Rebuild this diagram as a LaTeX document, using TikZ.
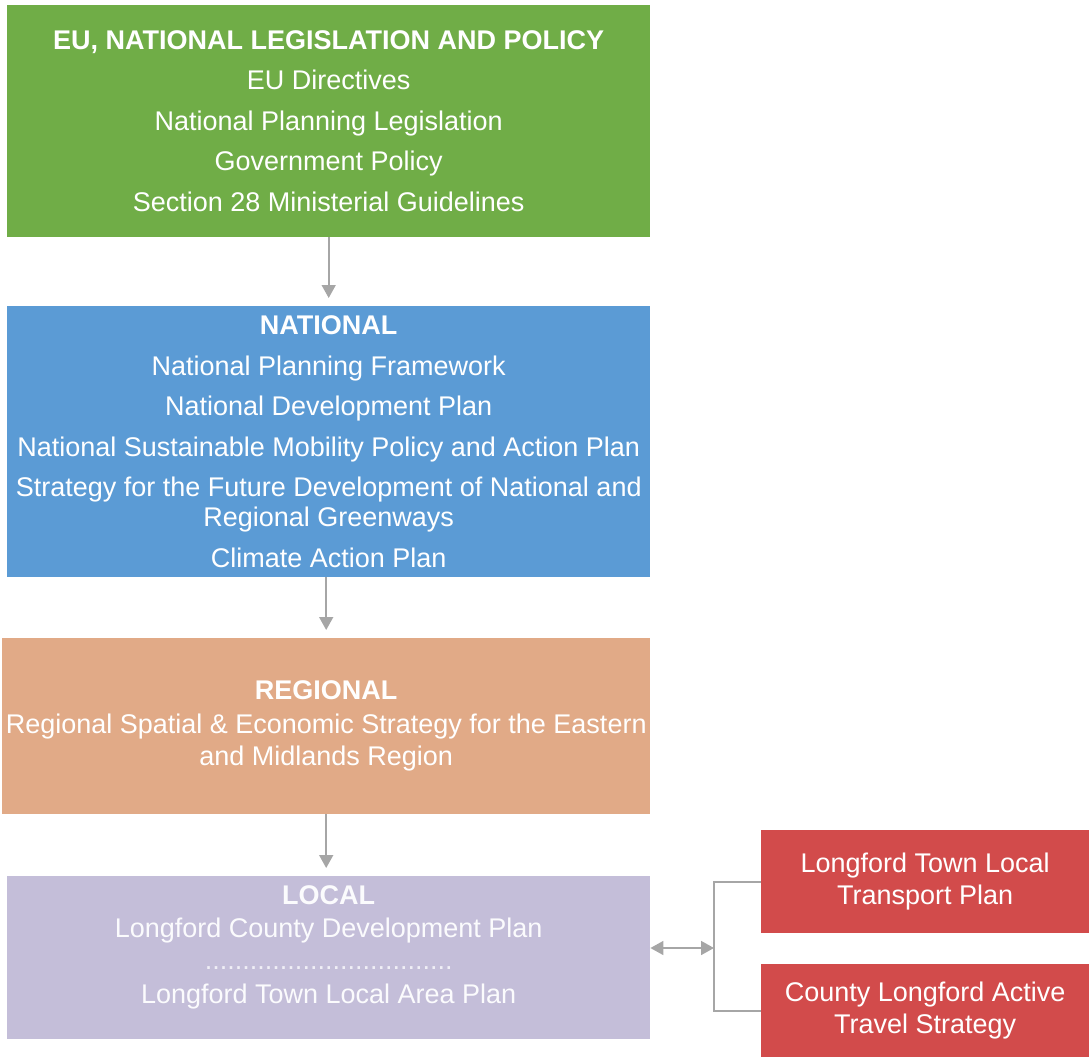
\documentclass[tikz,border=0pt]{standalone}
\usepackage{fontspec}
\setmainfont{Liberation Sans}
\usetikzlibrary{positioning, arrows.meta}
\tikzset{>=stealth}
\definecolor{euGreen}{HTML}{70AD47}
\definecolor{natBlue}{HTML}{5B9BD5}
\definecolor{regOrange}{HTML}{E1AA87}
\definecolor{locLilac}{HTML}{C4BED9}
\definecolor{plnRed}{HTML}{D24B4B}
\definecolor{lnkGrey}{HTML}{A6A6A6}
\tikzset{
  tier/.style={anchor=north west, inner sep=0pt, text=white, align=center,
    font=\fontsize{27}{30}\selectfont},
  wide/.style={font=\fontsize{27}{32}\selectfont},
  feed/.style={draw=lnkGrey, line width=1.6pt, -{Triangle[length=13pt,width=14pt]}},
  twoway/.style={draw=lnkGrey, line width=1.6pt,
    {Triangle[length=13pt,width=14pt]}-{Triangle[length=13pt,width=14pt]}},
  brace/.style={draw=lnkGrey, line width=1.6pt}
}

\begin{document}
\begin{tikzpicture}[x=1pt, y=-1pt]
\useasboundingbox (0,0) rectangle (1089,1057);
\node[tier, fill=euGreen, minimum width=643pt, minimum height=232pt] (eu) at (7,5)
  {\textbf{EU, NATIONAL LEGISLATION AND POLICY}\\[10.5pt] EU Directives\\[10.5pt]
   National Planning Legislation\\[10.5pt] Government Policy\\[10.5pt]
   Section 28 Ministerial Guidelines};
\node[tier, fill=natBlue, minimum width=643pt, minimum height=271pt] (nat) at (7,306)
  {\textbf{NATIONAL}\\[10.5pt] National Planning Framework\\[10.5pt] National Development Plan\\[10.5pt]
   National Sustainable Mobility Policy and Action Plan\\[10.5pt]
   Strategy for the Future Development of National and\\ Regional Greenways\\[10.5pt]
   Climate Action Plan};
\node[tier, wide, fill=regOrange, minimum width=648pt, minimum height=176pt] (reg) at (2,638)
  {\textbf{REGIONAL}\\[2pt] Regional Spatial \& Economic Strategy for the Eastern\\
   and Midlands Region};
\node[tier, fill=locLilac, minimum width=643pt, minimum height=163pt] (loc) at (7,876) {};
\node[tier, anchor=center, text=white!94!locLilac] (loctxt) at ([yshift=10pt]loc.center)
  {\textbf{LOCAL}\\[3pt] Longford County Development Plan\\[2pt]
   {\color{white!75!locLilac}.................................}\\[4pt]
   Longford Town Local Area Plan};
\node[tier, wide, fill=plnRed, minimum width=328pt, minimum height=103pt] (ltp) at (761,830)
  {Longford Town Local\\ Transport Plan};
\node[tier, wide, fill=plnRed, minimum width=328pt, minimum height=93pt] (cat) at (761,964)
  {County Longford Active\\ Travel Strategy};
\coordinate (fork) at (714,948);

\draw[feed] (eu.south) -- ([yshift=8pt]eu.south |- nat.north);
\draw[feed] (reg.north |- nat.south) -- ([yshift=8pt]reg.north);
\draw[feed] (reg.south) -- ([yshift=8pt]reg.south |- loc.north);
\draw[brace] (ltp.west) -- ++(-47,0) |- (cat.west);
\draw[twoway] (loc.east |- fork) -- (fork);
\end{tikzpicture}
\end{document}
